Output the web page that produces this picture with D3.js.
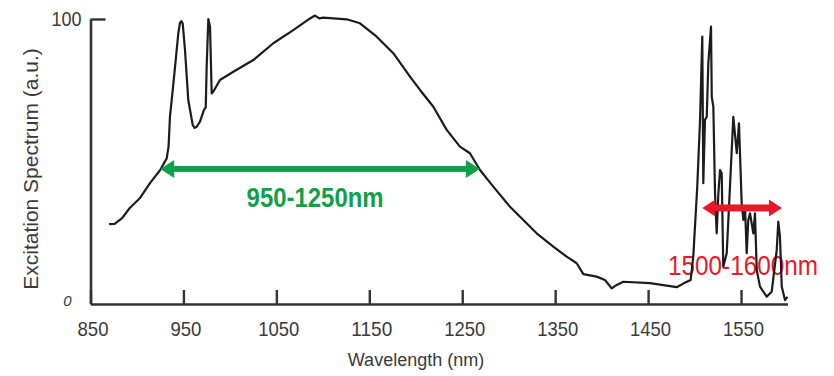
<!DOCTYPE html>
<html>
<head>
<meta charset="utf-8">
<script src="https://cdn.jsdelivr.net/npm/d3@7/dist/d3.min.js"></script>
<style>
  html, body { margin: 0; padding: 0; background: #fff; }
  svg { display: block; }
</style>
</head>
<body>
<svg id="chart" width="834" height="376"></svg>
<script>
// Excitation spectrum: wavelength (nm) and intensity (a.u.)
const wavelength = [
  870, 876, 884, 892, 903, 914, 925, 932, 934, 935.5, 938.5, 941, 944.5, 946.3, 947.8, 949.2,
  951.7, 955.2, 960, 962, 964.3, 967.8, 972.1, 974, 975, 976.8, 978.6, 980.4, 982.1, 989.3,
  1003.7, 1025.2, 1046.7, 1068.2, 1086.2, 1091.6, 1096.2, 1100.5, 1125.7, 1140, 1158,
  1175.8, 1193.8, 1204.6, 1218.9, 1233.3, 1247.5, 1258.3, 1269.1, 1283.4, 1301.4, 1312.2,
  1330.1, 1348, 1362.4, 1373.2, 1380.3, 1394.7, 1403.6, 1410.8, 1416.2, 1423.3, 1452.1,
  1480.8, 1489.7, 1495.8, 1498.6, 1502.9, 1505.9, 1508.3, 1509.4, 1511.2, 1513.1, 1514.8,
  1517.7, 1518.5, 1520.2, 1522, 1523.8, 1525.6, 1527.4, 1529.2, 1530.9, 1534.6, 1538.1,
  1541.7, 1545.4, 1547.8, 1550.7, 1552.5, 1554.3, 1556.1, 1557.8, 1559.7, 1563.2, 1565,
  1566.9, 1570.4, 1577.6, 1583, 1588.4, 1590.1, 1591.9, 1593.8, 1597.3, 1600
];
const intensity = [
  28.0, 28.1, 30.1, 33.6, 37.1, 42.4, 47.0, 51.1, 55.2, 65.7, 75.1, 83.3, 95.0, 98.7, 99.2, 98.5,
  89.1, 71.6, 62.8, 61.8, 62.2, 64.0, 68.1, 69.0, 83.3, 100.0, 97.3, 73.9, 74.5, 78.6,
  81.5, 85.6, 91.5, 96.1, 100.2, 101.2, 100.2, 100.5, 99.9, 98.5, 93.8,
  88.0, 79.8, 75.1, 69.2, 61.1, 55.2, 52.9, 47.0, 41.2, 34.1, 30.6,
  24.8, 20.1, 16.6, 14.3, 10.5, 9.6, 8.4, 5.5, 6.7, 7.8, 7.3,
  5.9, 7.5, 8.4, 16.6, 41.2, 64.6, 93.8, 42.4, 64.6, 65.7, 84.5,
  97.3, 72.7, 69.2, 38.8, 24.8, 38.8, 47.0, 45.9, 13.1, 17.8, 41.2,
  65.7, 52.9, 63.4, 35.3, 29.5, 34.1, 17.8, 29.5, 31.8, 24.8, 31.8,
  11.9, 6.1, 2.6, 4.3, 18.9, 28.9, 23.6, 6.1, 1.4, 2.5
];

// Axis ticks
const xTicks = [850, 950, 1050, 1150, 1250, 1350, 1450, 1550];
const yTicks = [0, 100];

// Highlighted excitation bands: [start nm, end nm, arrow level]
const bandNames = ["950-1250nm", "1500-1600nm"];
const bandFrom = [925, 1508.3];
const bandTo = [1269, 1594];
const bandLevel = [47.4, 33.7];
const bandColors = ["#10a04b", "#e8192c"];

const svg = d3.select("#chart");
const x = d3.scaleLinear().domain([850, 1600]).range([90.5, 787.5]);
const y = d3.scaleLinear().domain([0, 100]).range([304, 19]);

const axisColor = "#333";
const textColor = "#3a3a3a";
const labelFont = "'Liberation Sans', Arial, sans-serif";

// Condensed look: squeeze glyphs to a fixed run length
function condense(sel, len) {
  sel.attr("textLength", len).attr("lengthAdjust", "spacingAndGlyphs");
}

// Band labels sit beneath the trace
const labelG = svg.append("g");
labelG.append("text")
  .attr("x", x(1091.7)).attr("y", y(34.1))
  .attr("text-anchor", "middle")
  .attr("font-family", labelFont)
  .attr("font-weight", "bold")
  .attr("font-size", 28)
  .attr("fill", bandColors[0])
  .text(bandNames[0])
  .call(condense, 137);
labelG.append("text")
  .attr("x", x(1552.1)).attr("y", y(10.2))
  .attr("text-anchor", "middle")
  .attr("font-family", labelFont)
  .attr("font-size", 28)
  .attr("fill", bandColors[1])
  .text(bandNames[1])
  .call(condense, 150);

// Spectrum trace
const pts = wavelength.map((w, i) => [w, intensity[i]]);
svg.append("path")
  .datum(pts)
  .attr("fill", "none")
  .attr("stroke", "#1c1c1c")
  .attr("stroke-width", 2.2)
  .attr("stroke-linejoin", "round")
  .attr("d", d3.line().x(d => x(d[0])).y(d => y(d[1])));

// Double-headed arrows marking the bands
const shaftW = [6, 7], headL = [14, 13], headH = [9, 8.5];
bandNames.forEach((n, i) => {
  const x0 = x(bandFrom[i]), x1 = x(bandTo[i]), yy = y(bandLevel[i]);
  const g = svg.append("g").attr("fill", bandColors[i]);
  g.append("rect")
    .attr("x", x0 + headL[i] - 1).attr("y", yy - shaftW[i] / 2)
    .attr("width", x1 - x0 - 2 * headL[i] + 2).attr("height", shaftW[i]);
  g.append("path").attr("d",
    `M${x0},${yy} L${x0 + headL[i]},${yy - headH[i]} L${x0 + headL[i]},${yy + headH[i]} Z`);
  g.append("path").attr("d",
    `M${x1},${yy} L${x1 - headL[i]},${yy - headH[i]} L${x1 - headL[i]},${yy + headH[i]} Z`);
});

// X axis with inward ticks
const gx = svg.append("g")
  .attr("transform", `translate(0,${y(0)})`)
  .call(d3.axisBottom(x).tickValues(xTicks).tickFormat(d3.format("d"))
    .tickSizeInner(-14).tickSizeOuter(0).tickPadding(17));
gx.select(".domain").attr("stroke", axisColor).attr("stroke-width", 2.6);
gx.selectAll(".tick line").attr("stroke", axisColor).attr("stroke-width", 2.4);
gx.selectAll(".tick text")
  .attr("dx", 2)
  .attr("font-family", labelFont).attr("font-size", 21).attr("fill", textColor)
  .each(function (d) { condense(d3.select(this), String(d).length === 4 ? 41 : 31); });

// Y axis with the top tick pointing inward
const gy = svg.append("g")
  .attr("transform", `translate(${x(850)},0)`)
  .call(d3.axisLeft(y).tickValues(yTicks).tickFormat(d3.format("d"))
    .tickSizeInner(-15).tickSizeOuter(0).tickPadding(9));
gy.select(".domain").attr("stroke", axisColor).attr("stroke-width", 2.6);
gy.selectAll(".tick line").attr("stroke", axisColor).attr("stroke-width", 2.4)
  .filter(d => d === 0).remove();
gy.selectAll(".tick text")
  .attr("font-family", labelFont).attr("font-size", 21).attr("fill", textColor);
gy.selectAll(".tick text").filter(d => d === 100).call(condense, 30);
gy.selectAll(".tick text").filter(d => d === 0)
  .attr("x", -19).attr("dy", "0.1em")
  .attr("font-size", 15).attr("font-style", "italic");

// Axis titles
svg.append("text")
  .attr("x", 416).attr("y", 366)
  .attr("text-anchor", "middle")
  .attr("font-family", labelFont)
  .attr("font-size", 18).attr("fill", textColor)
  .text("Wavelength (nm)");
svg.append("text")
  .attr("transform", "translate(38,169) rotate(-90)")
  .attr("text-anchor", "middle")
  .attr("font-family", labelFont)
  .attr("font-size", 21).attr("fill", textColor)
  .text("Excitation Spectrum (a.u.)");
</script>
</body>
</html>
